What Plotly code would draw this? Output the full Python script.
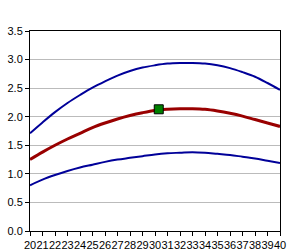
import plotly.graph_objects as go

x = list(range(20, 41))
upper = [1.71, 1.90, 2.08, 2.24, 2.38, 2.51, 2.62, 2.72, 2.80, 2.86, 2.90, 2.93, 2.94, 2.94, 2.93, 2.90, 2.85, 2.78, 2.70, 2.59, 2.47]
middle = [1.25, 1.38, 1.50, 1.61, 1.71, 1.81, 1.89, 1.96, 2.02, 2.07, 2.11, 2.13, 2.14, 2.14, 2.13, 2.10, 2.06, 2.01, 1.95, 1.89, 1.83]
lower = [0.80, 0.90, 0.98, 1.05, 1.11, 1.16, 1.21, 1.25, 1.28, 1.31, 1.34, 1.36, 1.37, 1.38, 1.37, 1.35, 1.33, 1.30, 1.27, 1.23, 1.19]
point_x = [30.3]
point_y = [2.13]

fig = go.Figure()
fig.add_trace(go.Scatter(x=x, y=upper, mode="lines", line=dict(color="#000099", width=2, shape="spline")))
fig.add_trace(go.Scatter(x=x, y=lower, mode="lines", line=dict(color="#000099", width=2, shape="spline")))
fig.add_trace(go.Scatter(x=x, y=middle, mode="lines", line=dict(color="#990000", width=3, shape="spline")))
fig.add_trace(go.Scatter(x=point_x, y=point_y, mode="markers",
                         marker=dict(symbol="square", size=9, color="#008000", line=dict(color="black", width=1))))

fig.update_layout(
    width=300, height=250, showlegend=False,
    margin=dict(l=30, r=20, t=31, b=19),
    paper_bgcolor="white", plot_bgcolor="white",
    font=dict(family="Liberation Sans, Arial, sans-serif", size=11, color="black"),
)
fig.update_xaxes(range=[20, 40], dtick=1, tick0=20, showgrid=False, zeroline=False,
                 showline=True, linecolor="black", linewidth=1, mirror=True, automargin=False,
                 tickangle=0, ticks="outside", ticklen=4, tickcolor="black", tickfont=dict(size=11))
fig.update_yaxes(range=[0, 3.5], dtick=0.5, tickformat=".1f", showgrid=True, gridcolor="#bbbbbb",
                 zeroline=False, showline=True, linecolor="black", linewidth=1, mirror=True, automargin=False,
                 ticks="outside", ticklen=4, tickcolor="black", tickfont=dict(size=11))

fig.write_html("out.html")
